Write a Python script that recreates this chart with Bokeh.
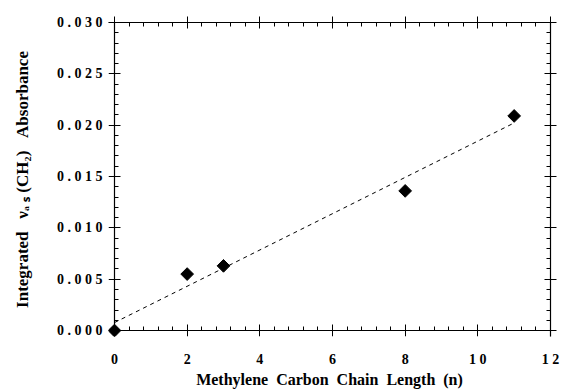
import numpy as np
from bokeh.plotting import figure
from bokeh.models import LinearAxis, FixedTicker, Range1d
from bokeh.embed import file_html
from bokeh.resources import INLINE

# data
chain_length = [0, 2, 3, 8, 11]
absorbance = [0.0000, 0.0055, 0.0063, 0.0136, 0.0209]
x_ticks = [0, 2, 4, 6, 8, 10, 12]
x_tick_labels = ["0", "2", "4", "6", "8", "1 0", "1 2"]
y_ticks = [0.000, 0.005, 0.010, 0.015, 0.020, 0.025, 0.030]
y_tick_labels = ["0 . 0 0 0", "0 . 0 0 5", "0 . 0 1 0", "0 . 0 1 5", "0 . 0 2 0", "0 . 0 2 5", "0 . 0 3 0"]
x_minor = [round(i * 0.4, 2) for i in range(31)]
y_minor = [round(i * 0.001, 3) for i in range(31)]
x_title = "Methylene\u00a0\u00a0Carbon\u00a0\u00a0Chain\u00a0\u00a0Length\u00a0\u00a0(n)"
y_title = "Integrated\u00a0\u00a0\u00a0\u03bd\u2090\u00a0\u209b\u00a0(CH\u2082)\u00a0\u00a0\u00a0Absorbance"

slope, intercept = np.polyfit(chain_length, absorbance, 1)
fit_x = [0, 11]
fit_y = [intercept + slope * v for v in fit_x]

FONT = "Liberation Serif"

p = figure(width=564, height=390, output_backend="svg", toolbar_location=None,
           x_range=Range1d(-0.165, 12), y_range=Range1d(-0.00058, 0.030),
           min_border_left=108, min_border_right=14, min_border_top=22, min_border_bottom=53)
p.outline_line_color = None
p.grid.visible = False
p.background_fill_color = "white"
p.axis.visible = False

p.line(fit_x, fit_y, line_color="black", line_dash="4 4", line_width=1)
p.scatter(chain_length, absorbance, marker="square", angle=np.pi / 4, size=9,
          fill_color="black", line_color="black")

def tick_axis(ax, ticks, minor):
    ax.ticker = FixedTicker(ticks=ticks, minor_ticks=minor)
    ax.axis_line_color = "black"
    ax.axis_line_width = 1.2
    ax.major_tick_in = 6
    ax.major_tick_out = 6
    ax.minor_tick_in = 4
    ax.minor_tick_out = 0
    ax.major_tick_line_color = "black"
    ax.minor_tick_line_color = "black"
    ax.major_label_text_color = None
    ax.major_label_standoff = 0

def label_axis(ax, ticks, labels):
    ax.ticker = FixedTicker(ticks=ticks, minor_ticks=[])
    ax.axis_line_color = None
    ax.major_tick_line_color = None
    ax.minor_tick_line_color = None
    ax.major_tick_in = 0
    ax.major_tick_out = 0
    ax.minor_tick_in = 0
    ax.minor_tick_out = 0
    ax.major_label_overrides = {t: l for t, l in zip(ticks, labels)}
    ax.major_label_text_font = FONT
    ax.major_label_text_font_style = "bold"
    ax.major_label_text_font_size = "14px"
    ax.major_label_text_color = "black"
    ax.major_label_text_line_height = 0.9
    ax.axis_label_text_font = FONT
    ax.axis_label_text_font_style = "bold"
    ax.axis_label_text_color = "black"
    ax.axis_label_text_line_height = 0.8

# axis lines and ticks through the data origin
xt = LinearAxis(fixed_location=0)
tick_axis(xt, x_ticks, x_minor)
p.add_layout(xt, "below")
yt = LinearAxis(fixed_location=0)
tick_axis(yt, y_ticks, y_minor)
p.add_layout(yt, "left")

# labels in the side panels
xl = LinearAxis(axis_label=x_title)
label_axis(xl, x_ticks, x_tick_labels)
xl.major_label_standoff = 15
xl.axis_label_text_font_size = "16px"
xl.axis_label_standoff = 1
p.add_layout(xl, "below")

yl = LinearAxis(axis_label=y_title)
label_axis(yl, y_ticks, y_tick_labels)
yl.major_label_standoff = 6
yl.axis_label_text_font_size = "17px"
yl.axis_label_standoff = 22
p.add_layout(yl, "left")

top = LinearAxis()
tick_axis(top, x_ticks, x_minor)
p.add_layout(top, "above")
right = LinearAxis()
tick_axis(right, y_ticks, y_minor)
p.add_layout(right, "right")

open("out.html", "w").write(file_html(p, INLINE))
